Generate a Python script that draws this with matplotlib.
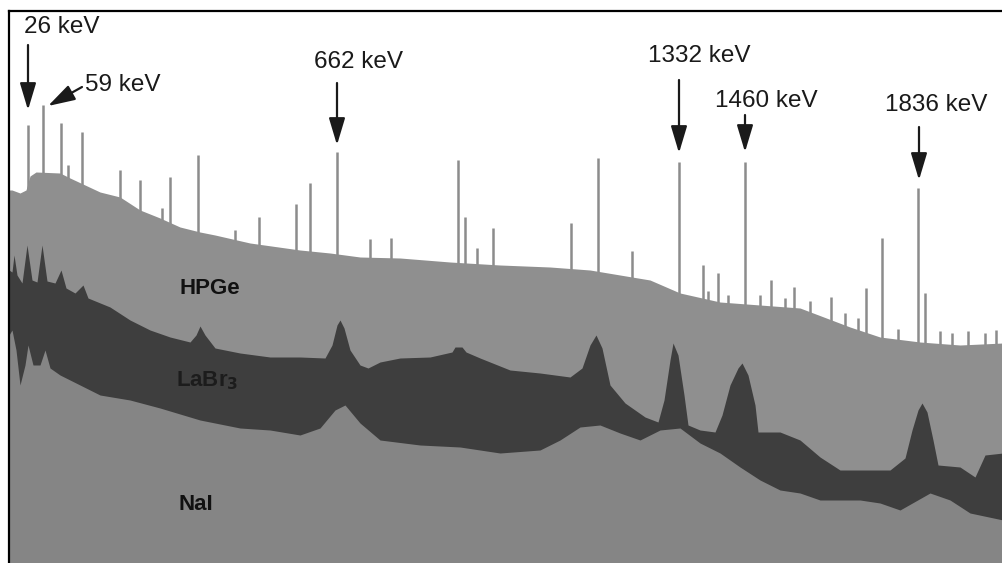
import numpy as np
import matplotlib
matplotlib.use("Agg")
from matplotlib import pyplot as plt

plt.rcParams['font.family'] = ['Liberation Sans', 'DejaVu Sans']

################################ spectra (channel, counts in arbitrary units) ################
hpge_x = [9, 12, 20, 26, 30, 36, 60, 70, 85, 100, 120, 140, 160, 180, 200, 215, 250, 300, 330,
          360, 400, 450, 500, 550, 590, 620, 650, 680, 720, 760, 800, 850, 880, 920, 960, 1003]
hpge_y = [373, 373, 370, 373, 387, 391, 390, 385, 378, 371, 366, 353, 345, 336, 331, 328, 320, 313, 310,
          306, 305, 301, 298, 296, 293, 288, 283, 270, 261, 258, 255, 236, 226, 221, 218, 220]

# HPGe narrow lines
line_x = [28, 43, 61, 68, 82, 120, 140, 162, 170, 198, 235, 259, 296, 310, 337, 370, 391, 458,
          465, 477, 493, 571, 598, 632, 679, 703, 718, 745, 771, 794, 831, 866, 882, 918, 925,
          708, 728, 760, 785, 810, 845, 858, 898, 940, 952, 968, 985, 996]
line_y = [438, 458, 440, 398, 431, 393, 383, 355, 386, 408, 333, 346, 359, 380, 411, 324, 325, 403,
          346, 315, 335, 340, 405, 312, 401, 298, 290, 401, 283, 276, 266, 275, 325, 375, 270,
          272, 268, 268, 265, 262, 250, 245, 234, 232, 230, 232, 230, 233]

labr_x = [9, 12, 14, 17, 22, 27, 32, 37, 42, 47, 55, 61, 66, 75, 83, 88, 110, 130, 150, 170, 190,
          196, 200, 205, 215, 240, 270, 300, 325, 332, 337, 340, 344, 350, 360, 368, 380, 400, 430,
          452, 455, 462, 466, 480, 510, 540, 570, 582, 590, 596, 602, 610, 625, 645, 658, 664, 670,
          673, 678, 684, 688, 700, 715, 722, 730, 738, 742, 748, 755, 758, 780, 800, 820, 840, 860,
          890, 905, 912, 918, 922, 927, 933, 938, 960, 975, 985, 1003]
labr_py = [270, 272, 255, 275, 283, 245, 280, 282, 245, 281, 283, 270, 288, 293, 285, 298, 307, 320, 330, 337, 342,
           335, 326, 335, 348, 353, 357, 357, 358, 345, 325, 320, 328, 350, 365, 368, 362, 358, 357,
           352, 347, 347, 352, 358, 370, 373, 377, 368, 345, 335, 348, 385, 403, 417, 422, 400, 360,
           343, 355, 395, 425, 430, 432, 415, 385, 368, 363, 375, 405, 432, 432, 440, 457, 470, 470,
           470, 458, 430, 410, 403, 412, 440, 465, 467, 477, 455, 453]
labr_y = [563 - v for v in labr_py]

nai_x = [9, 12, 16, 20, 25, 28, 33, 40, 45, 50, 60, 70, 100, 130, 160, 200, 240, 270, 300, 320, 335,
         345, 360, 380, 420, 460, 500, 540, 560, 580, 600, 620, 640, 660, 680, 700, 720, 740, 760,
         780, 800, 820, 860, 880, 900, 930, 950, 970, 1003]
nai_py = [335, 330, 350, 385, 365, 345, 365, 365, 350, 368, 375, 380, 395, 400, 408, 420, 428, 430, 435, 428, 410,
          405, 423, 440, 445, 447, 453, 450, 440, 427, 425, 433, 440, 430, 428, 443, 453, 467, 480,
          490, 493, 500, 500, 503, 510, 493, 500, 513, 520]
nai_y = [563 - v for v in nai_py]

peak_names = ['26 keV', '59 keV', '662 keV', '1332 keV', '1460 keV', '1836 keV']

################################ figure ###############################################
fig = plt.figure(figsize=(10.03, 5.63), dpi=100)
ax = fig.add_axes([9/1003, 0, 1 - 9/1003, 552/563])
ax.set_xlim(9, 1003)
ax.set_ylim(0, 552)

ax.vlines(line_x, 0, line_y, color='#8c8c8c', linewidth=1.8, zorder=1)
ax.fill_between(hpge_x, 0, hpge_y, color='#8f8f8f', linewidth=0, zorder=2)
ax.fill_between(labr_x, 0, labr_y, color='#3e3e3e', linewidth=0, zorder=3)
ax.fill_between(nai_x, 0, nai_y, color='#858585', linewidth=0, zorder=4)

ax.text(210, 563-288, 'HPGe', fontsize=16, fontweight='bold', ha='center', va='center', color='#111111', zorder=5)
ax.text(207, 563-381, r'LaBr$_\mathbf{3}$', fontsize=16, fontweight='bold', ha='center', va='center', color='#1c1c1c', zorder=5)
ax.text(196, 563-505, 'NaI', fontsize=16, fontweight='bold', ha='center', va='center', color='#111111', zorder=5)

################################ peak labels and arrows ###############################
text_pos = [(62, 27), (123, 85), (358, 62), (699, 56), (766, 101), (936, 105)]
arrow_pos = [((28, 45), (28, 110)), ((82, 87), (48, 106)), ((337, 83), (337, 145)),
             ((679, 80), (679, 153)), ((745, 115), (745, 152)), ((919, 127), (919, 180))]
for name, (tx, ty), ((x0, y0), (x1, y1)) in zip(peak_names, text_pos, arrow_pos):
    ax.text(tx, 563-ty, name, fontsize=17.5, ha='center', va='center', color='#1a1a1a', zorder=6)
    ax.annotate('', xy=(x1, 563-y1), xytext=(x0, 563-y0),
                arrowprops=dict(arrowstyle='-|>,head_length=1.5,head_width=0.45', mutation_scale=11,
                                color='#1a1a1a', lw=1.6, shrinkA=0, shrinkB=0), zorder=6)

ax.set_xticks([])
ax.set_yticks([])
ax.spines['right'].set_visible(False)
ax.spines['bottom'].set_visible(False)
ax.spines['left'].set_linewidth(1.6)
ax.spines['top'].set_linewidth(1.6)
ax.spines['left'].set_zorder(10)

plt.savefig('out.png', dpi=100)
